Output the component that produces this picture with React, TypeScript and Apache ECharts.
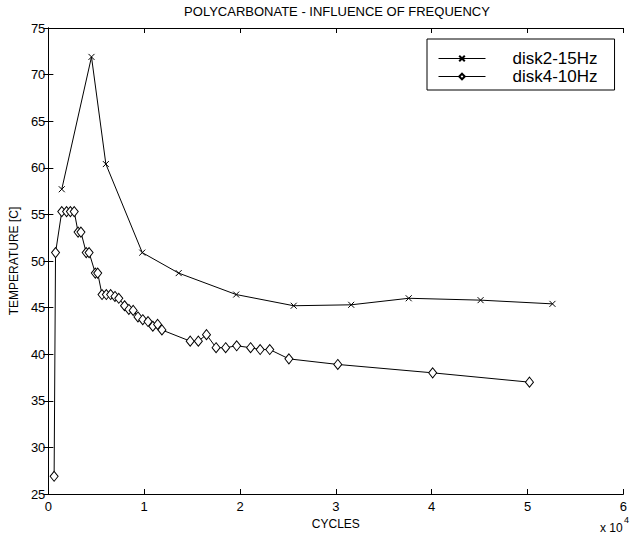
import React, { useEffect, useRef } from "react";
import * as echarts from "echarts";

const titleText = "POLYCARBONATE - INFLUENCE OF FREQUENCY";
const xName = "CYCLES";
const yName = "TEMPERATURE [C]";
const seriesNames = ["disk2-15Hz", "disk4-10Hz"];

const disk2Cycles = [1400, 4500, 6000, 9800, 13600, 19600, 25600, 31600, 37600, 45100, 52600];
const disk2Temp = [57.7, 71.9, 60.4, 50.9, 48.7, 46.4, 45.2, 45.3, 46.0, 45.8, 45.4];

const disk4Cycles = [
  600, 750, 1400, 1900, 2300, 2700, 3100, 3400, 3950, 4250, 4900, 5150, 5600, 6050, 6500,
  6950, 7350, 7950, 8400, 8850, 9350, 9850, 10400, 10900, 11400, 11850, 14800, 15650,
  16500, 17500, 18500, 19650, 21100, 22100, 23100, 25100, 30200, 40100, 50200,
];
const disk4Temp = [
  26.9, 50.9, 55.3, 55.3, 55.3, 55.3, 53.1, 53.1, 50.9, 50.9, 48.7, 48.7, 46.4, 46.4, 46.4,
  46.2, 46.0, 45.2, 44.8, 44.7, 44.0, 43.7, 43.5, 43.0, 43.2, 42.6, 41.4, 41.4,
  42.1, 40.7, 40.7, 40.9, 40.7, 40.5, 40.5, 39.5, 38.9, 38.0, 37.0,
];

const FONT = "'Liberation Sans', Arial, Helvetica, sans-serif";

export default function App() {
  const ref = useRef<HTMLDivElement>(null);
  useEffect(() => {
    if (!ref.current) return;
    const chart = echarts.init(ref.current, null, { renderer: "svg" });
    const axisCommon = {
      axisLine: { show: true, lineStyle: { color: "#000", width: 1 } },
      axisTick: { show: true, inside: true, length: 5, lineStyle: { color: "#000" } },
      splitLine: { show: false },
    };
    chart.setOption({
      animation: false,
      backgroundColor: "#fff",
      textStyle: { fontFamily: FONT, color: "#000" },
      title: {
        text: titleText,
        left: 337,
        textAlign: "center",
        top: 5,
        padding: 0,
        textStyle: { fontFamily: FONT, fontSize: 13, fontWeight: "normal", color: "#000" },
      },
      grid: { left: 46, right: 2, top: 28, bottom: 42, containLabel: false },
      legend: {
        orient: "vertical",
        left: 427,
        top: 39,
        padding: [11, 17, 5, 11],
        itemWidth: 47,
        itemHeight: 7,
        itemGap: 1,
        borderColor: "#000",
        borderWidth: 1,
        backgroundColor: "#fff",
        lineStyle: { width: 1 },
        textStyle: { fontFamily: FONT, fontSize: 17, color: "#000", padding: [0, 0, 0, 22] },
        data: seriesNames,
      },
      xAxis: [
        {
          type: "value",
          min: 0,
          max: 60000,
          interval: 10000,
          name: xName,
          nameLocation: "middle",
          nameGap: 18,
          nameTextStyle: { fontFamily: FONT, fontSize: 12, color: "#000" },
          axisLabel: {
            fontFamily: FONT,
            fontSize: 13,
            color: "#000",
            margin: 6,
            formatter: (v: number) => String(v / 10000),
          },
          ...axisCommon,
        },
        {
          type: "value",
          position: "top",
          min: 0,
          max: 60000,
          interval: 10000,
          axisLabel: { show: false },
          ...axisCommon,
        },
      ],
      yAxis: [
        {
          type: "value",
          min: 25,
          max: 75,
          interval: 5,
          name: yName,
          nameLocation: "middle",
          nameGap: 26,
          nameTextStyle: { fontFamily: FONT, fontSize: 12, color: "#000" },
          axisLabel: { fontFamily: FONT, fontSize: 13, color: "#000", margin: 3 },
          ...axisCommon,
        },
        {
          type: "value",
          position: "right",
          min: 25,
          max: 75,
          interval: 5,
          axisLabel: { show: false },
          ...axisCommon,
        },
      ],
      series: [
        {
          name: seriesNames[0],
          type: "line",
          data: disk2Cycles.map((c, i) => [c, disk2Temp[i]]),
          symbol: "path://M0,0L10,10M10,0L0,10",
          symbolSize: 6,
          lineStyle: { color: "#000", width: 1 },
          itemStyle: { color: "#000", borderColor: "#000", borderWidth: 1 },
        },
        {
          name: seriesNames[1],
          type: "line",
          data: disk4Cycles.map((c, i) => [c, disk4Temp[i]]),
          symbol: "diamond",
          symbolSize: [8, 10],
          lineStyle: { color: "#000", width: 1 },
          itemStyle: { color: "#fff", borderColor: "#000", borderWidth: 1 },
        },
      ],
      graphic: [
        {
          type: "text",
          left: 600,
          top: 522,
          style: { text: "x 10", font: `12px ${FONT}`, fill: "#000" },
        },
        {
          type: "text",
          left: 624,
          top: 515,
          style: { text: "4", font: `9px ${FONT}`, fill: "#000" },
        },
      ],
    });
    return () => chart.dispose();
  }, []);
  return <div ref={ref} style={{ width: 630, height: 536, position: "absolute", left: 0, top: 0 }} />;
}
